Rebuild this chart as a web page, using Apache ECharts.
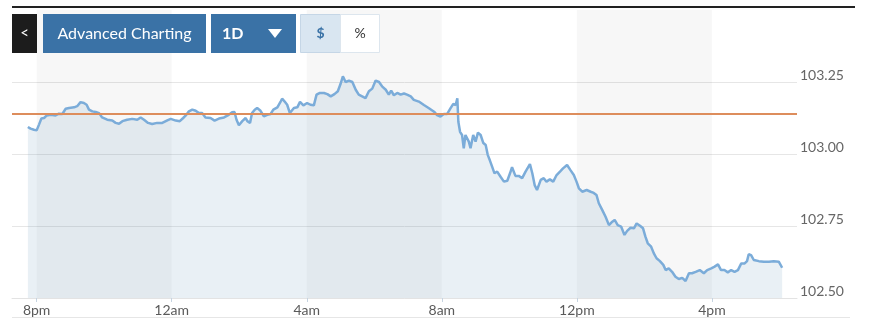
<!DOCTYPE html>
<html><head><meta charset="utf-8">
<script src="https://cdn.jsdelivr.net/npm/echarts@6/dist/echarts.min.js"></script>
<style>html,body{margin:0;padding:0;background:#fff}#c{width:870px;height:323px}</style>
</head><body><div id="c"></div>
<script>
// time of each quote, in hours since 8pm
const hoursSince8pm = [
-0.26,-0.18,-0.08,0.00,0.07,0.14,0.22,0.30,0.42,0.56,0.66,0.76,0.86,0.96,1.11,1.20,1.30,1.40,1.48,1.55,
1.65,1.75,1.85,1.94,2.09,2.24,2.34,2.44,2.54,2.68,2.83,2.98,3.08,3.18,3.30,3.42,3.57,3.72,3.87,3.97,
4.12,4.24,4.34,4.41,4.51,4.61,4.71,4.81,4.90,5.00,5.15,5.27,
5.40,5.55,5.69,5.79,5.86,5.92,5.99,6.09,6.19,6.24,6.32,6.38,6.46,6.53,6.63,6.73,6.83,6.93,7.01,7.13,
7.23,7.27,7.34,7.42,7.50,7.62,7.72,7.80,7.90,8.01,8.11,8.21,8.29,8.39,8.51,8.61,8.71,8.82,8.92,9.00,
9.07,9.15,9.25,9.35,9.45,9.54,9.64,9.74,9.84,9.94,10.04,10.14,10.23,10.34,10.43,10.50,10.58,10.68,10.78,10.88,
10.97,11.08,
11.17,11.32,11.47,11.62,11.77,11.86,11.96,12.06,12.16,12.26,12.34,12.41,12.46,12.49,12.54,12.60,12.65,12.70,12.75,12.80,
12.85,12.93,13.00,13.07,13.15,13.23,13.30,13.36,13.42,13.49,13.56,13.64,13.74,13.84,13.94,14.02,14.08,14.18,14.28,14.38,
14.48,14.61,14.68,14.75,14.82,14.93,15.02,15.10,15.20,15.30,15.40,15.50,15.59,15.71,15.81,15.91,15.99,16.06,16.16,16.29,
16.41,16.50,
16.58,16.65,16.75,16.85,16.95,17.05,17.12,17.21,17.31,17.41,17.49,17.59,17.69,17.77,17.87,17.96,18.03,18.10,18.20,18.28,
18.36,18.46,18.56,18.63,18.72,18.82,18.92,19.02,19.12,19.22,19.32,19.41,19.52,19.64,19.76,19.86,19.98,20.08,20.18,20.27,
20.37,20.47,20.57,20.67,20.77,20.87,20.97,21.04,21.09,21.16,21.24,21.39,21.54,21.69,21.83,21.98,22.08
];
const prices = [
103.094,103.088,103.084,103.082,103.102,103.123,103.125,103.134,103.136,103.134,
103.140,103.139,103.157,103.160,103.162,103.166,103.180,103.177,103.171,103.154,
103.148,103.146,103.142,103.127,103.119,103.116,103.108,103.105,103.114,103.119,
103.122,103.119,103.127,103.119,103.108,103.104,103.108,103.108,103.117,103.122,
103.116,103.114,103.125,103.133,103.148,103.154,103.150,103.142,103.142,103.127,
103.125,103.116,
103.123,103.127,103.136,103.145,103.146,103.119,103.100,103.114,103.125,103.114,
103.108,103.142,103.154,103.160,103.150,103.131,103.136,103.139,103.154,103.162,
103.183,103.192,103.183,103.171,103.142,103.160,103.162,103.181,103.169,103.177,
103.171,103.169,103.206,103.212,103.212,103.208,103.200,103.208,103.218,103.243,
103.270,103.250,103.255,103.250,103.223,103.206,103.200,103.194,103.218,103.227,
103.255,103.250,103.235,103.223,103.206,103.220,103.204,103.212,103.206,103.210,
103.206,103.200,
103.188,103.182,103.170,103.159,103.147,103.135,103.130,103.139,103.139,103.159,
103.174,103.170,103.193,103.112,103.077,103.066,103.020,103.066,103.072,103.043,
103.020,103.066,103.043,103.074,103.066,103.038,103.031,102.997,102.979,102.956,
102.933,102.939,102.921,102.904,102.907,102.933,102.954,102.924,102.924,102.916,
102.939,102.965,102.933,102.892,102.875,102.910,102.916,102.904,102.912,102.904,
102.927,102.939,102.950,102.962,102.944,102.927,102.904,102.881,102.869,102.875,
102.869,102.865,
102.858,102.829,102.806,102.782,102.753,102.765,102.771,102.753,102.748,102.719,
102.733,102.744,102.742,102.759,102.751,102.742,102.713,102.690,102.678,102.655,
102.638,102.628,102.615,102.597,102.603,102.591,102.574,102.566,102.570,102.559,
102.586,102.586,102.591,102.597,102.586,102.597,102.603,102.609,102.617,102.597,
102.597,102.589,102.597,102.591,102.597,102.620,102.620,102.628,102.652,102.649,
102.632,102.628,102.626,102.626,102.628,102.626,102.605
];
const tickHours = [0, 4, 8, 12, 16, 20];
const tickLabels = ['8pm', '12am', '4am', '8am', '12pm', '4pm'];
const previousClose = 103.14;
const shadedBands = [[0, 4], [8, 12], [16, 20]];
const buttonLabels = ['Advanced Charting', '1D', '$', '%'];

const FONT = 'Lato, "Open Sans", sans-serif';
const BLUE = '#3a72a6';
const chart = echarts.init(document.getElementById('c'), null, {renderer: 'canvas'});
const seriesData = hoursSince8pm.map((h, i) => [h, prices[i]]);

chart.setOption({
  animation: false,
  backgroundColor: '#ffffff',
  grid: {left: 12, right: 73, top: 10, bottom: 25},
  xAxis: {
    type: 'value', min: -0.73, max: 22.52,
    axisLine: {onZero: false, lineStyle: {color: '#e3e3e3', width: 1}},
    axisTick: {customValues: tickHours, length: 4, lineStyle: {color: '#c6d4e1'}},
    axisLabel: {customValues: tickHours, margin: 5, fontFamily: FONT, fontSize: 14, color: '#5a5a5a',
      formatter: v => tickLabels[tickHours.indexOf(v)] || ''},
    splitLine: {show: false}
  },
  yAxis: {
    type: 'value', position: 'right', min: 102.5, max: 103.5, interval: 0.25,
    axisLine: {show: false}, axisTick: {show: false},
    axisLabel: {margin: 3, verticalAlign: 'bottom', fontFamily: FONT, fontSize: 14, color: '#666',
      formatter: v => v >= 103.5 ? '' : v.toFixed(2)},
    splitLine: {lineStyle: {color: ['#e6e6e6', '#e6e6e6', '#e6e6e6', '#e6e6e6', 'rgba(0,0,0,0)'], width: 1}}
  },
  series: [
    {
      type: 'line', z: 1, data: [], silent: true,
      markArea: {silent: true, itemStyle: {color: 'rgba(0,0,0,0.03)'},
        data: shadedBands.map(b => [{xAxis: b[0]}, {xAxis: b[1]}])}
    },
    {
      type: 'line', z: 2, data: seriesData, showSymbol: false, symbol: 'none',
      lineStyle: {color: '#7bacd9', width: 2.5},
      areaStyle: {color: 'rgba(128,168,200,0.25)', origin: 'start'},
      markLine: {silent: true, symbol: 'none', label: {show: false},
        lineStyle: {color: '#dd8d5c', width: 2, type: 'solid'},
        data: [{yAxis: previousClose}]}
    }
  ],
  graphic: [
    {type: 'rect', shape: {x: 12, y: 6, width: 843, height: 2}, style: {fill: '#222'}, z: 100},
    {type: 'rect', shape: {x: 12, y: 317, width: 838, height: 1}, style: {fill: '#e6e6e6'}, z: 100},
    {type: 'rect', shape: {x: 12, y: 14, width: 25, height: 39}, style: {fill: '#1c1c1c'}, z: 100},
    {type: 'text', x: 24.5, y: 33.5, style: {text: '<', fill: '#fff', font: '15px ' + FONT, align: 'center', verticalAlign: 'middle'}, z: 101},
    {type: 'rect', shape: {x: 43, y: 14, width: 163, height: 39}, style: {fill: BLUE}, z: 100},
    {type: 'text', x: 124.5, y: 33.5, style: {text: buttonLabels[0], fill: '#fff', font: '16px ' + FONT, align: 'center', verticalAlign: 'middle'}, z: 101},
    {type: 'rect', shape: {x: 211, y: 14, width: 85, height: 39}, style: {fill: BLUE}, z: 100},
    {type: 'text', x: 222, y: 34, style: {text: buttonLabels[1], fill: '#fff', font: 'bold 16px ' + FONT, align: 'left', verticalAlign: 'middle'}, z: 101},
    {type: 'polygon', shape: {points: [[268, 29], [282, 29], [275, 38]]}, style: {fill: '#fff'}, z: 101},
    {type: 'rect', shape: {x: 300.5, y: 14.5, width: 40, height: 38}, style: {fill: '#d9e6f1', stroke: '#c5d6e6', lineWidth: 1}, z: 100},
    {type: 'text', x: 320.5, y: 33.5, style: {text: buttonLabels[2], fill: BLUE, font: 'bold 14px ' + FONT, align: 'center', verticalAlign: 'middle'}, z: 101},
    {type: 'rect', shape: {x: 340.5, y: 14.5, width: 39, height: 38}, style: {fill: '#fff', stroke: '#dde6ee', lineWidth: 1}, z: 100},
    {type: 'text', x: 360, y: 33.5, style: {text: buttonLabels[3], fill: '#333', font: '14px ' + FONT, align: 'center', verticalAlign: 'middle'}, z: 101}
  ]
});
</script>
</body></html>
